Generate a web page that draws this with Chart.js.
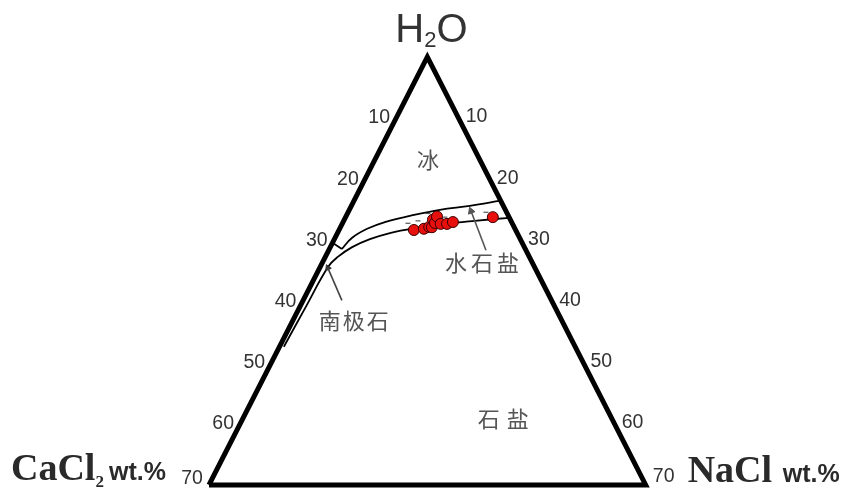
<!DOCTYPE html>
<html>
<head>
<meta charset="utf-8">
<script src="https://cdn.jsdelivr.net/npm/chart.js@4.4.1/dist/chart.umd.min.js"></script>
<style>
  html, body { margin: 0; padding: 0; background: #fff; }
  #wrap { width: 845px; height: 488px; position: relative; }
</style>
</head>
<body>
<div id="wrap"><canvas id="ternary"></canvas></div>
<script>
// every point is [CaCl2 wt.%, NaCl wt.%]; H2O makes up the rest
const tickValues = [10, 20, 30, 40, 50, 60, 70];
const corners = [[70, 0], [0, 0], [0, 70], [70, 0]];

const upperCurve = [[29.4, 2.0], [26.9, 2.7], [23.7, 4.4], [20.3, 6.7], [15.8, 10.2], [10.5, 14.5], [5.35, 19.0], [0, 23.5]];
const upperTick = [[30.4, 0], [29.4, 2.0]];
const lowerCurve = [[46.7, 0.7], [40.0, 0.95], [33.1, 1.25], [30.7, 2.0], [27.6, 3.5], [24.1, 5.7], [20.4, 8.4], [16.0, 12.0], [10.8, 16.5], [5.8, 21.0], [0, 26.3]];

const inclusions = [[16.3, 12.0], [14.6, 13.5], [13.6, 14.2], [13.2, 14.65], [12.4, 14.2], [12.35, 14.8], [11.5, 14.6], [11.5, 15.8], [10.5, 16.8], [9.4, 17.6], [2.6, 23.6]];
const inclusionMarks = [[16.7, 10.5], [14.9, 11.9], [12.7, 12.9], [10.3, 15.9], [3.3, 22.1]];

const hydrohaliteArrow = [[6.4, 25.2], [5.6, 19.6]];
const antarcticiteArrow = [[33.6, 6.2], [33.2, 1.3]];

const fieldNames = ['冰', '水石盐', '南极石', '石盐'];
const fieldSpots = [[8.3, 8.5], [8.1, 25.6], [33.4, 9.8], [17.4, 41.7]];

const toXY = ([c, n]) => ({ x: n - c, y: 70 - c - n });

const lineSet = (data, width, extra) => Object.assign({
    data: data.map(toXY),
    showLine: true,
    borderColor: '#000',
    borderWidth: width,
    pointRadius: 0,
    fill: false
}, extra || {});

const labelPlugin = {
    id: 'ternaryLabels',
    afterDatasetsDraw(chart) {
        const { ctx, scales: { x, y } } = chart;
        const px = p => { const q = toXY(p); return [x.getPixelForValue(q.x), y.getPixelForValue(q.y)]; };
        ctx.save();

        // side ticks
        ctx.fillStyle = '#333';
        ctx.font = '19.5px "Liberation Sans", Arial, sans-serif';
        ctx.textAlign = 'center';
        ctx.textBaseline = 'middle';
        tickValues.forEach(v => {
            const [lx, ly] = px([v, 0]);
            const [rx, ry] = px([0, v]);
            ctx.fillText(String(v), lx - 17, ly + (v === 70 ? -6 : 0));
            ctx.fillText(String(v), rx + 18, ry + (v === 70 ? -8 : -1));
        });

        // field names
        ctx.fillStyle = '#555';
        ctx.font = '22px "Noto Sans CJK SC", sans-serif';
        const spacing = ['0px', '4px', '2px', '7px'];
        fieldNames.forEach((name, i) => {
            const [fx, fy] = px(fieldSpots[i]);
            ctx.letterSpacing = spacing[i];
            ctx.fillText(name, fx + parseFloat(spacing[i]) / 2, fy);
        });
        ctx.letterSpacing = '0px';

        // H2O apex
        ctx.textAlign = 'left';
        ctx.textBaseline = 'alphabetic';
        ctx.fillStyle = '#333';
        const [ax, ay] = px(corners[1]);
        let hx = ax - 32;
        ctx.font = '40px "Liberation Sans", Arial, sans-serif';
        ctx.fillText('H', hx, ay - 15);
        hx += ctx.measureText('H').width;
        ctx.font = '22px "Liberation Sans", Arial, sans-serif';
        ctx.fillText('2', hx, ay - 10);
        hx += ctx.measureText('2').width;
        ctx.font = '40px "Liberation Sans", Arial, sans-serif';
        ctx.fillText('O', hx, ay - 15);

        // bottom corners
        const [blx, bly] = px(corners[0]);
        const [brx, bry] = px(corners[2]);
        ctx.fillStyle = '#2a2a2a';
        ctx.font = 'bold 38px "Liberation Serif", "Times New Roman", serif';
        ctx.fillText('CaCl', blx - 198, bly - 5);
        const cx = blx - 198 + ctx.measureText('CaCl').width;
        ctx.font = 'bold 17px "Liberation Serif", "Times New Roman", serif';
        ctx.fillText('2', cx, bly + 2);
        ctx.font = 'bold 38px "Liberation Serif", "Times New Roman", serif';
        ctx.fillText('NaCl', brx + 42, bry - 3);
        ctx.font = 'bold 25px "Liberation Sans", Arial, sans-serif';
        ctx.fillText('wt.%', blx - 100, bly - 5);
        ctx.fillText('wt.%', brx + 137, bry - 3);

        ctx.restore();
    }
};

new Chart(document.getElementById('ternary'), {
    type: 'scatter',
    data: {
        datasets: [
            {
                data: inclusions.map(toXY),
                pointRadius: 5.5,
                pointBackgroundColor: '#e8100c',
                pointBorderColor: '#3a0000',
                pointBorderWidth: 1
            },
            {
                data: inclusionMarks.map(toXY),
                pointStyle: 'line',
                pointRadius: 2.5,
                pointBorderColor: '#555',
                pointBorderWidth: 1.2
            },
            lineSet(hydrohaliteArrow, 1.6, { borderColor: '#555' }),
            {
                data: [toXY(hydrohaliteArrow[1])],
                pointStyle: 'triangle',
                pointRotation: -21,
                pointRadius: 4,
                pointBackgroundColor: '#555',
                pointBorderColor: '#555'
            },
            lineSet(antarcticiteArrow, 1.6, { borderColor: '#444' }),
            {
                data: [toXY(antarcticiteArrow[1])],
                pointStyle: 'triangle',
                pointRotation: -24,
                pointRadius: 3.5,
                pointBackgroundColor: '#333',
                pointBorderColor: '#333'
            },
            lineSet(upperCurve, 1.8, { tension: 0.4 }),
            lineSet(upperTick, 1.8),
            lineSet(lowerCurve, 1.8, { tension: 0.4 }),
            lineSet(corners, 5, { borderJoinStyle: 'miter' })
        ]
    },
    options: {
        responsive: true,
        maintainAspectRatio: false,
        animation: false,
        layout: { padding: 0, autoPadding: false },
        plugins: { legend: { display: false }, tooltip: { enabled: false } },
        scales: {
            x: { type: 'linear', min: -137.0, max: 133.9, display: false },
            y: { type: 'linear', min: -0.5, max: 79.32, display: false }
        }
    },
    plugins: [labelPlugin]
});
</script>
</body>
</html>
